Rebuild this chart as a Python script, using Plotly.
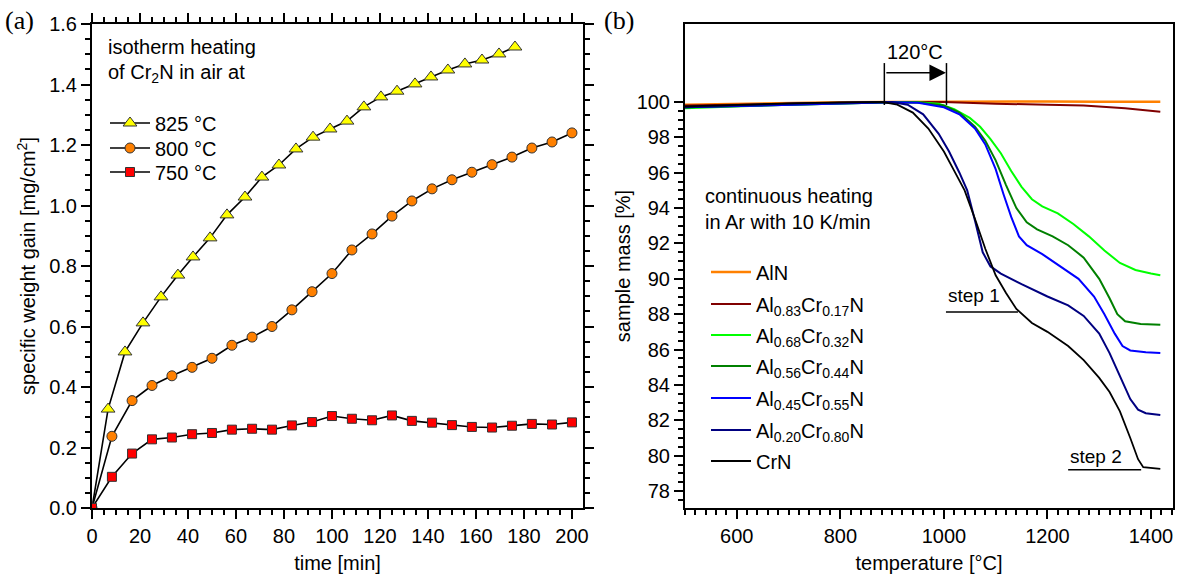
import plotly.graph_objects as go

# ---------------- Panel (a): isothermal oxidation of Cr2N ----------------
t_825 = [0, 6.7, 13.75, 21.25, 28.75, 35.8, 42.1, 49.2, 56.25, 63.75, 70.8, 77.9, 85, 92.1,
         99.2, 106.25, 113.3, 120.4, 127.1, 134.6, 141.25, 148.3, 155.4, 162.5, 169.6, 176.25]
w_825 = [0, 0.327, 0.516, 0.612, 0.698, 0.770, 0.830, 0.893, 0.969, 1.028, 1.094, 1.134, 1.187,
         1.226, 1.253, 1.279, 1.326, 1.359, 1.378, 1.402, 1.425, 1.448, 1.468, 1.481, 1.501, 1.524]

t_800 = [0, 8.3, 16.7, 25, 33.3, 41.7, 50, 58.3, 66.7, 75, 83.3, 91.7, 100, 108.3, 116.7, 125,
         133.3, 141.7, 150, 158.3, 166.7, 175, 183.3, 191.7, 200]
w_800 = [0, 0.237, 0.355, 0.405, 0.437, 0.465, 0.495, 0.538, 0.565, 0.600, 0.655, 0.715, 0.775,
         0.853, 0.906, 0.965, 1.015, 1.055, 1.085, 1.110, 1.135, 1.160, 1.190, 1.210, 1.240]

t_750 = [0, 8.3, 16.7, 25, 33.3, 41.7, 50, 58.3, 66.7, 75, 83.3, 91.7, 100, 108.3, 116.7, 125,
         133.3, 141.7, 150, 158.3, 166.7, 175, 183.3, 191.7, 200]
w_750 = [0, 0.103, 0.180, 0.227, 0.233, 0.244, 0.248, 0.259, 0.262, 0.259, 0.273, 0.284, 0.304,
         0.295, 0.290, 0.306, 0.288, 0.282, 0.274, 0.268, 0.266, 0.272, 0.278, 0.276, 0.283]

# ---------------- Panel (b): continuous heating TGA ----------------
T_AlN = [500, 600, 700, 800, 900, 1000, 1100, 1200, 1300, 1418]
m_AlN = [99.85, 99.9, 99.95, 99.98, 100.0, 100.02, 100.02, 100.03, 100.02, 100.02]

T_A83 = [500, 600, 700, 800, 900, 1000, 1100, 1200, 1270, 1350, 1418]
m_A83 = [99.8, 99.85, 99.9, 99.95, 100.0, 100.0, 99.9, 99.85, 99.8, 99.65, 99.45]

T_A68 = [500, 700, 900, 950, 990, 1020, 1050, 1070, 1090, 1110, 1130, 1150, 1170, 1190, 1220,
         1250, 1280, 1310, 1340, 1370, 1400, 1418]
m_A68 = [99.65, 99.85, 99.98, 99.98, 99.9, 99.6, 99.1, 98.6, 97.9, 97.1, 96.1, 95.2, 94.5, 94.1,
         93.7, 93.1, 92.4, 91.6, 90.9, 90.5, 90.3, 90.2]

T_A56 = [500, 700, 900, 950, 1000, 1030, 1060, 1080, 1100, 1120, 1140, 1160, 1180, 1210, 1240,
         1270, 1300, 1320, 1335, 1350, 1380, 1418]
m_A56 = [99.7, 99.85, 99.98, 99.97, 99.8, 99.4, 98.6, 97.8, 96.7, 95.3, 94.0, 93.2, 92.8, 92.4,
         91.9, 91.2, 90.0, 88.9, 88.0, 87.6, 87.45, 87.4]

T_A45 = [500, 700, 900, 950, 1000, 1030, 1060, 1080, 1100, 1115, 1130, 1145, 1160, 1190, 1220,
         1260, 1290, 1310, 1330, 1345, 1360, 1390, 1418]
m_A45 = [99.7, 99.85, 99.98, 99.95, 99.7, 99.3, 98.5, 97.6, 96.2, 94.8, 93.5, 92.4, 91.9, 91.4,
         90.8, 90.0, 89.0, 88.0, 86.9, 86.2, 85.95, 85.85, 85.8]

T_A20 = [500, 600, 700, 800, 900, 930, 960, 990, 1010, 1030, 1045, 1060, 1075, 1090, 1110, 1150,
         1200, 1240, 1270, 1300, 1320, 1340, 1360, 1375, 1390, 1418]
m_A20 = [99.7, 99.8, 99.9, 99.95, 100.0, 99.85, 99.3, 98.2, 97.2, 96.0, 95.0, 93.3, 91.5, 90.7,
         90.3, 89.7, 89.0, 88.5, 87.9, 86.9, 85.8, 84.5, 83.2, 82.6, 82.4, 82.3]

T_CrN = [500, 600, 700, 800, 880, 910, 940, 970, 1000, 1020, 1040, 1060, 1080, 1100, 1120, 1140,
         1170, 1200, 1240, 1270, 1300, 1320, 1340, 1360, 1375, 1385, 1400, 1418]
m_CrN = [99.75, 99.85, 99.92, 99.98, 100.0, 99.85, 99.4, 98.5, 97.2, 96.1, 95.0, 93.4, 91.7,
         90.2, 89.2, 88.3, 87.5, 87.0, 86.2, 85.4, 84.4, 83.6, 82.5, 81.0, 79.8, 79.35, 79.3, 79.25]

FONT = "Arial, Liberation Sans, sans-serif"
SERIF = "Liberation Serif, Times New Roman, serif"
FS = 20
W, H = 1177, 574
MT, MB = 24, 66
PH = H - MT - MB


def py(px):
    """convert a pixel row (from top of figure) to paper y."""
    return 1 - (px - MT) / PH


fig = go.Figure()
legend_layouts = {}
legend_counter = [0]


def new_legend(x_px, row_px):
    legend_counter[0] += 1
    n = legend_counter[0]
    key = "legend" if n == 1 else f"legend{n}"
    legend_layouts[key] = dict(x=x_px / W, y=py(row_px), xanchor="left", yanchor="middle",
                               bgcolor="rgba(0,0,0,0)", font=dict(family=FONT, size=FS, color="black"),
                               itemwidth=40)
    return key


iso_series = [
    ("825 °C", t_825, w_825, "triangle-up", "#FFFF00", 12),
    ("800 °C", t_800, w_800, "circle", "#FF8000", 10),
    ("750 °C", t_750, w_750, "square", "#FF0000", 9),
]
iso_rows = [123, 148, 172]
for (name, xs, ys, sym, col, sz), row in zip(iso_series, iso_rows):
    fig.add_trace(go.Scatter(
        x=xs, y=ys, name=name, mode="lines+markers", xaxis="x", yaxis="y",
        line=dict(color="black", width=1.6),
        marker=dict(symbol=sym, color=col, size=sz, line=dict(color="#333333", width=1)),
        legend=new_legend(105, row),
    ))

tga_series = [
    ("AlN", T_AlN, m_AlN, "#FF8000", 2.5),
    ("Al<sub>0.83</sub>Cr<sub>0.17</sub>N", T_A83, m_A83, "#800000", 2),
    ("Al<sub>0.68</sub>Cr<sub>0.32</sub>N", T_A68, m_A68, "#00FF00", 2),
    ("Al<sub>0.56</sub>Cr<sub>0.44</sub>N", T_A56, m_A56, "#008000", 2),
    ("Al<sub>0.45</sub>Cr<sub>0.55</sub>N", T_A45, m_A45, "#0000FF", 2),
    ("Al<sub>0.20</sub>Cr<sub>0.80</sub>N", T_A20, m_A20, "#000080", 2),
    ("CrN", T_CrN, m_CrN, "#000000", 1.8),
]
tga_rows = [272, 304, 335, 366, 398, 430, 461]
for (name, xs, ys, col, lw), row in zip(tga_series, tga_rows):
    fig.add_trace(go.Scatter(
        x=xs, y=ys, name=name, mode="lines", xaxis="x2", yaxis="y2",
        line=dict(color=col, width=lw),
        legend=new_legend(706, row),
    ))

axis_common = dict(
    showline=True, linecolor="black", linewidth=2,
    ticks="outside", ticklen=9, tickwidth=2, tickcolor="black",
    showgrid=False, zeroline=False,
    tickfont=dict(family=FONT, size=FS, color="black"),
)
minor_style = dict(ticklen=5, tickwidth=1.5, ticks="outside", tickcolor="black")

fig.update_layout(
    width=W, height=H,
    margin=dict(l=0, r=0, t=MT, b=MB, autoexpand=False),
    paper_bgcolor="white", plot_bgcolor="white",
    font=dict(family=FONT, size=FS, color="black"),
    xaxis=dict(domain=[92 / W, 583 / W], range=[0, 204.6], dtick=20, anchor="y", mirror="ticks",
               title=dict(text="time [min]", font=dict(family=FONT, size=FS), standoff=10),
               minor=dict(dtick=5, **minor_style), **axis_common),
    yaxis=dict(domain=[0, 1], range=[0, 1.6], dtick=0.2, tickformat=".1f", anchor="x", mirror="ticks",
               title=dict(text="specific weight gain [mg/cm<sup>2</sup>]", font=dict(family=FONT, size=FS),
                          standoff=8),
               minor=dict(dtick=0.05, **minor_style), **axis_common),
    xaxis2=dict(domain=[685 / W, 1173 / W], range=[500, 1442.5], tickvals=[600, 800, 1000, 1200, 1400],
                anchor="y2", mirror=True,
                title=dict(text="temperature [°C]", font=dict(family=FONT, size=FS), standoff=10),
                minor=dict(dtick=20, **minor_style), **axis_common),
    yaxis2=dict(domain=[0, 1], range=[77.04, 104.41], tickvals=list(range(78, 101, 2)), anchor="x2",
                mirror=True,
                title=dict(text="sample mass [%]", font=dict(family=FONT, size=FS), standoff=1),
                minor=dict(tickvals=[v / 2 for v in range(155, 201) if v % 4 != 0], **minor_style),
                **axis_common),
    showlegend=True,
    **legend_layouts,
)

ann = [
    dict(text="(a)", xref="paper", yref="paper", x=3 / W, y=py(21), xanchor="left", yanchor="middle",
         showarrow=False, font=dict(family=SERIF, size=26)),
    dict(text="(b)", xref="paper", yref="paper", x=602 / W, y=py(21), xanchor="left", yanchor="middle",
         showarrow=False, font=dict(family=SERIF, size=26)),
    dict(text="isotherm heating", xref="x", yref="y", x=6.0, y=1.524, xanchor="left", yanchor="middle",
         showarrow=False, font=dict(family=FONT, size=FS)),
    dict(text="of Cr<sub>2</sub>N in air at", xref="x", yref="y", x=6.0, y=1.436, xanchor="left",
         yanchor="middle", showarrow=False, font=dict(family=FONT, size=FS)),
    dict(text="continuous heating", xref="x2", yref="y2", x=534, y=94.68, xanchor="left", yanchor="middle",
         showarrow=False, font=dict(family=FONT, size=FS)),
    dict(text="in Ar with 10 K/min", xref="x2", yref="y2", x=534, y=93.21, xanchor="left", yanchor="middle",
         showarrow=False, font=dict(family=FONT, size=FS)),
    dict(text="120°C", xref="x2", yref="y2", x=945, y=102.8, xanchor="center", yanchor="middle",
         showarrow=False, font=dict(family=FONT, size=FS)),
    dict(text="step 1", xref="x2", yref="y2", x=1004, y=89.05, xanchor="left", yanchor="middle",
         showarrow=False, font=dict(family=FONT, size=19)),
    dict(text="step 2", xref="x2", yref="y2", x=1240, y=79.95, xanchor="left", yanchor="middle",
         showarrow=False, font=dict(family=FONT, size=19)),
    dict(text="", xref="x2", yref="y2", axref="x2", ayref="y2", x=1004, y=101.65, ax=886, ay=101.65,
         showarrow=True, arrowhead=2, arrowsize=2.2, arrowwidth=1.5, arrowcolor="black"),
]
fig.update_layout(annotations=ann)

line_style = dict(color="black", width=1.5)
fig.update_layout(shapes=[
    dict(type="line", xref="x2", yref="y2", x0=885, x1=885, y0=99.83, y1=102.2, line=line_style),
    dict(type="line", xref="x2", yref="y2", x0=1005, x1=1005, y0=99.83, y1=102.2, line=line_style),
    dict(type="line", xref="x2", yref="y2", x0=1004, x1=1143, y0=88.12, y1=88.12, line=line_style),
    dict(type="line", xref="x2", yref="y2", x0=1240, x1=1381, y0=79.21, y1=79.21, line=line_style),
])

fig.write_html("out.html")
